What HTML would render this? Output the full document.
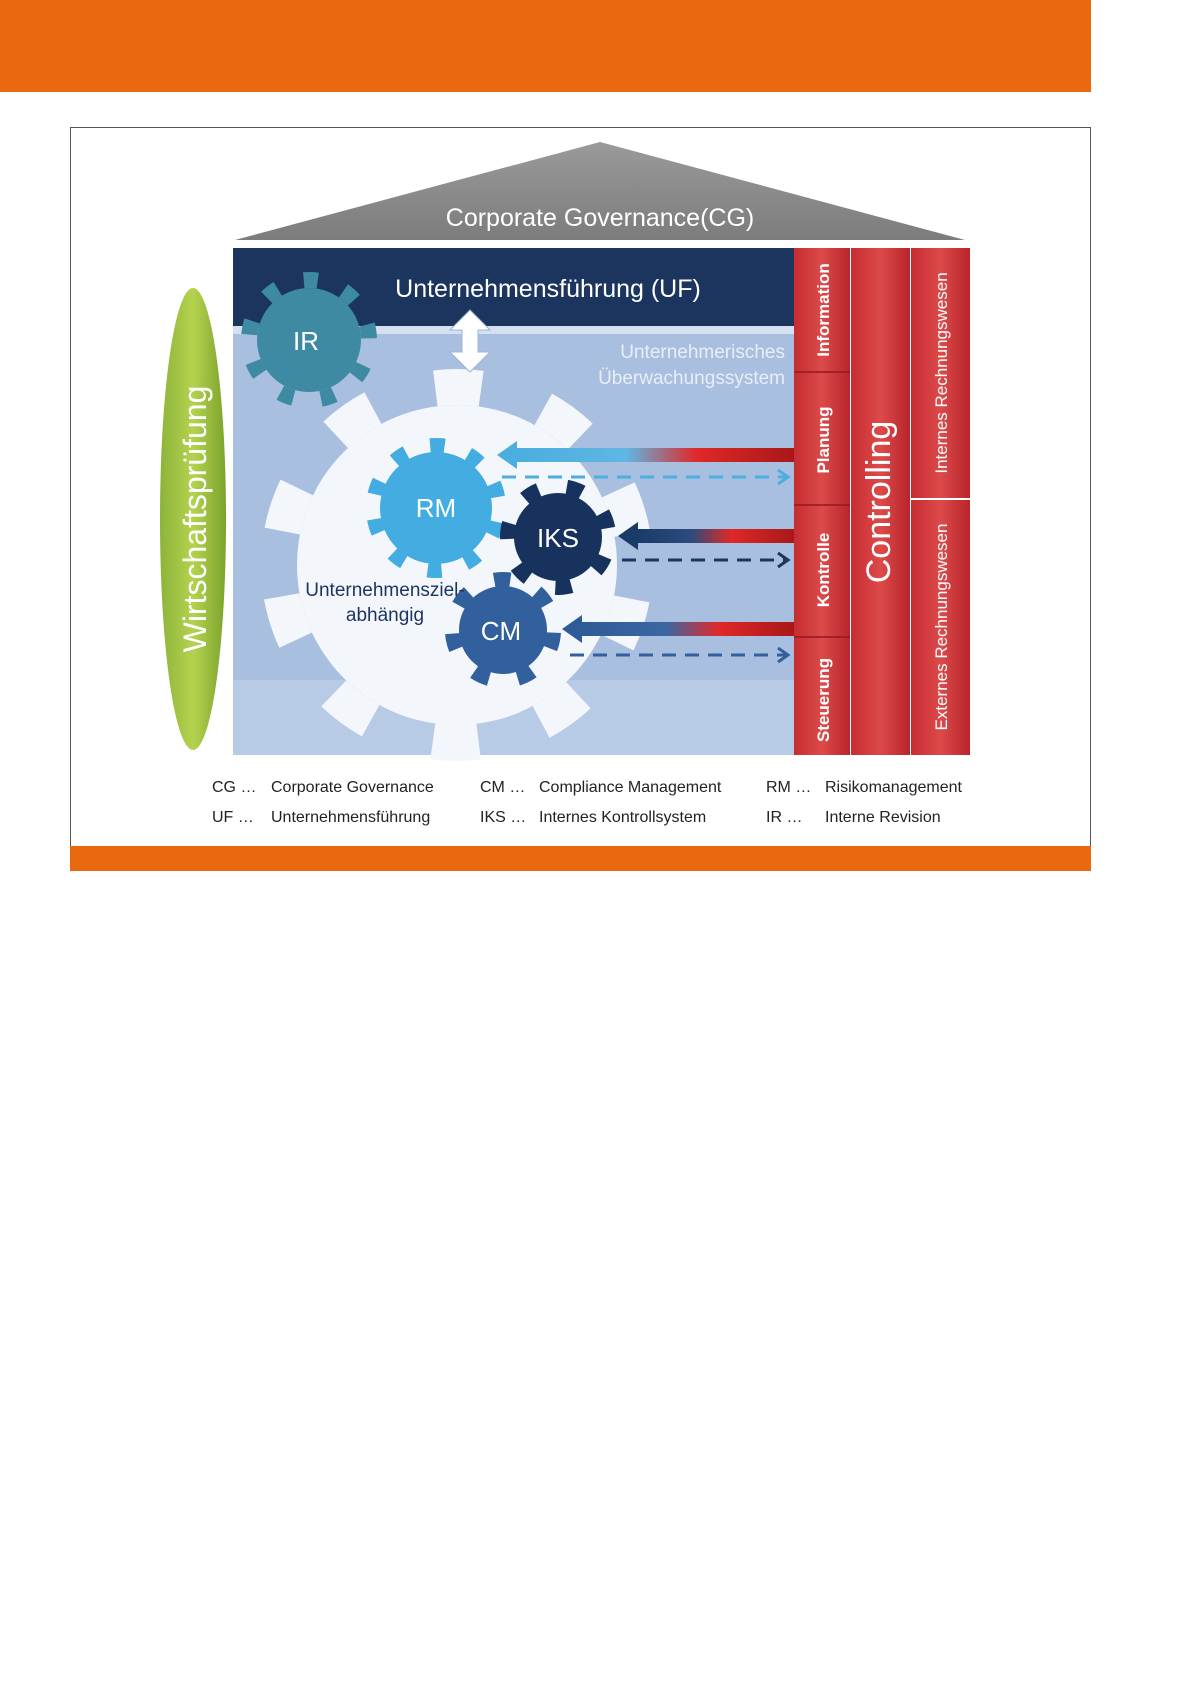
<!DOCTYPE html>
<html><head><meta charset="utf-8"><style>
html,body{margin:0;padding:0;background:#fff;width:1196px;height:1692px;overflow:hidden}
svg{display:block;font-family:"Liberation Sans",sans-serif}
</style></head><body>
<svg width="1196" height="1692" viewBox="0 0 1196 1692" xmlns="http://www.w3.org/2000/svg">
<defs>
<linearGradient id="roof" x1="0" y1="0" x2="0" y2="1"><stop offset="0" stop-color="#9a9a9a"/><stop offset="1" stop-color="#7c7c7c"/></linearGradient>
<linearGradient id="green" x1="0" y1="0" x2="1" y2="0"><stop offset="0" stop-color="#8cb43a"/><stop offset="0.5" stop-color="#b5d24e"/><stop offset="1" stop-color="#7aa32c"/></linearGradient>
<linearGradient id="red" x1="0" y1="0" x2="1" y2="0"><stop offset="0" stop-color="#c62c30"/><stop offset="0.5" stop-color="#dc4a4a"/><stop offset="1" stop-color="#b8242a"/></linearGradient>
<linearGradient id="a1" x1="0" y1="0" x2="1" y2="0"><stop offset="0" stop-color="#4aaee0"/><stop offset="0.4" stop-color="#5fb6e2"/><stop offset="0.65" stop-color="#e02828"/><stop offset="1" stop-color="#a81818"/></linearGradient>
<linearGradient id="a2" x1="0" y1="0" x2="1" y2="0"><stop offset="0" stop-color="#1a3a68"/><stop offset="0.35" stop-color="#2a4c7c"/><stop offset="0.6" stop-color="#e02828"/><stop offset="1" stop-color="#a81818"/></linearGradient>
<linearGradient id="a3" x1="0" y1="0" x2="1" y2="0"><stop offset="0" stop-color="#2f5c98"/><stop offset="0.4" stop-color="#3a67a0"/><stop offset="0.65" stop-color="#e02828"/><stop offset="1" stop-color="#a81818"/></linearGradient>
</defs>
<rect x="0" y="0" width="1091" height="92" fill="#e8690f"/>
<rect x="70.5" y="127.5" width="1020" height="719" fill="#fff" stroke="#555" stroke-width="1"/>
<rect x="70" y="846" width="1021" height="25" fill="#e8690f"/>
<polygon points="600,142 235,240 965,240" fill="url(#roof)"/>
<text x="600" y="226" font-size="25" fill="#fff" text-anchor="middle">Corporate Governance(CG)</text>
<rect x="233" y="248" width="561" height="507" fill="#a9bfdf"/>
<rect x="233" y="680" width="561" height="75" fill="#b7cae6"/>
<rect x="233" y="248" width="561" height="78" fill="#1b355f"/>
<rect x="233" y="326" width="561" height="8" fill="#d5e0f0"/>
<text x="548" y="297" font-size="25" fill="#fff" text-anchor="middle">Unternehmensführung (UF)</text>
<text x="785" y="358" font-size="19" fill="#e8eef8" text-anchor="end">Unternehmerisches</text>
<text x="785" y="384" font-size="19" fill="#e8eef8" text-anchor="end">Überwachungssystem</text>
<g fill="#f3f6fb">
<circle cx="457" cy="565" r="160"/>
<circle cx="457" cy="565" r="178" fill="none" stroke="#f3f6fb" stroke-width="36" stroke-dasharray="46 65.8" transform="rotate(-97 457 565)"/>
</g>
<polygon points="470,310 450,330 462,330 462,352 450,352 470,372 490,352 478,352 478,330 490,330" fill="#fff" stroke="#9fb4d4" stroke-width="1"/>
<circle cx="309" cy="340" r="52" fill="#3f8aa3"/>
<circle cx="309" cy="340" r="60" fill="none" stroke="#3f8aa3" stroke-width="16" stroke-dasharray="14 27.9" transform="rotate(-95 309 340)"/>
<text x="306" y="350" font-size="26" fill="#fff" text-anchor="middle">IR</text>
<circle cx="436" cy="508" r="56" fill="#43ade2"/>
<circle cx="436" cy="508" r="62" fill="none" stroke="#43ade2" stroke-width="16" stroke-dasharray="14 24.9" transform="rotate(-95 436 508)"/>
<text x="436" y="517" font-size="26" fill="#fff" text-anchor="middle">RM</text>
<circle cx="558" cy="537" r="44" fill="#17335d"/>
<circle cx="558" cy="537" r="50" fill="none" stroke="#17335d" stroke-width="16" stroke-dasharray="16 28.9" transform="rotate(-80 558 537)"/>
<text x="558" y="547" font-size="26" fill="#fff" text-anchor="middle">IKS</text>
<circle cx="503" cy="630" r="44" fill="#31609c"/>
<circle cx="503" cy="630" r="50" fill="none" stroke="#31609c" stroke-width="16" stroke-dasharray="16 28.9" transform="rotate(-100 503 630)"/>
<text x="501" y="640" font-size="26" fill="#fff" text-anchor="middle">CM</text>
<text x="385" y="596" font-size="19" fill="#1b355f" text-anchor="middle">Unternehmensziel-</text>
<text x="385" y="621" font-size="19" fill="#1b355f" text-anchor="middle">abhängig</text>
<rect x="515" y="448" width="279" height="14" fill="url(#a1)"/><polygon points="497,455 517,441 517,469" fill="#4aaee0"/>
<line x1="502" y1="477" x2="786" y2="477" stroke="#4aaee0" stroke-width="3" stroke-dasharray="14 9"/><polyline points="778,470 788,477 778,484" fill="none" stroke="#4aaee0" stroke-width="3"/>
<rect x="636" y="529" width="158" height="14" fill="url(#a2)"/><polygon points="618,536 638,522 638,550" fill="#1a3a68"/>
<line x1="622" y1="560" x2="786" y2="560" stroke="#1b355f" stroke-width="3" stroke-dasharray="14 9"/><polyline points="778,553 788,560 778,567" fill="none" stroke="#1b355f" stroke-width="3"/>
<rect x="580" y="622" width="214" height="14" fill="url(#a3)"/><polygon points="562,629 582,615 582,643" fill="#2f5c98"/>
<line x1="570" y1="655" x2="786" y2="655" stroke="#31609c" stroke-width="3" stroke-dasharray="14 9"/><polyline points="778,648 788,655 778,662" fill="none" stroke="#31609c" stroke-width="3"/>
<rect x="794" y="248" width="56" height="507" fill="url(#red)"/>
<line x1="794" y1="372" x2="850" y2="372" stroke="#8e1a1e" stroke-width="1.5"/>
<line x1="794" y1="505" x2="850" y2="505" stroke="#8e1a1e" stroke-width="1.5"/>
<line x1="794" y1="637" x2="850" y2="637" stroke="#8e1a1e" stroke-width="1.5"/>
<rect x="851" y="248" width="59" height="507" fill="url(#red)"/>
<rect x="911" y="248" width="59" height="250" fill="url(#red)"/>
<rect x="911" y="500" width="59" height="255" fill="url(#red)"/>
<g fill="#fff" font-weight="bold" font-size="17" text-anchor="middle">
<text transform="translate(829 310) rotate(-90)">Information</text>
<text transform="translate(829 440) rotate(-90)">Planung</text>
<text transform="translate(829 570) rotate(-90)">Kontrolle</text>
<text transform="translate(829 700) rotate(-90)">Steuerung</text>
<text transform="translate(947 373) rotate(-90)" font-weight="normal" font-size="17">Internes Rechnungswesen</text>
<text transform="translate(947 627) rotate(-90)" font-weight="normal" font-size="17">Externes Rechnungswesen</text>
<text transform="translate(890 502) rotate(-90)" font-weight="normal" font-size="34">Controlling</text>
</g>
<ellipse cx="193" cy="519" rx="33" ry="231" fill="url(#green)"/>
<text transform="translate(206 519) rotate(-90)" font-size="32" fill="#fff" text-anchor="middle">Wirtschaftsprüfung</text>
<g font-size="16" fill="#222">
<text x="212" y="792">CG …</text><text x="271" y="792">Corporate Governance</text>
<text x="480" y="792">CM …</text><text x="539" y="792">Compliance Management</text>
<text x="766" y="792">RM …</text><text x="825" y="792">Risikomanagement</text>
<text x="212" y="822">UF …</text><text x="271" y="822">Unternehmensführung</text>
<text x="480" y="822">IKS …</text><text x="539" y="822">Internes Kontrollsystem</text>
<text x="766" y="822">IR   …</text><text x="825" y="822">Interne Revision</text>
</g>
</svg>
</body></html>
